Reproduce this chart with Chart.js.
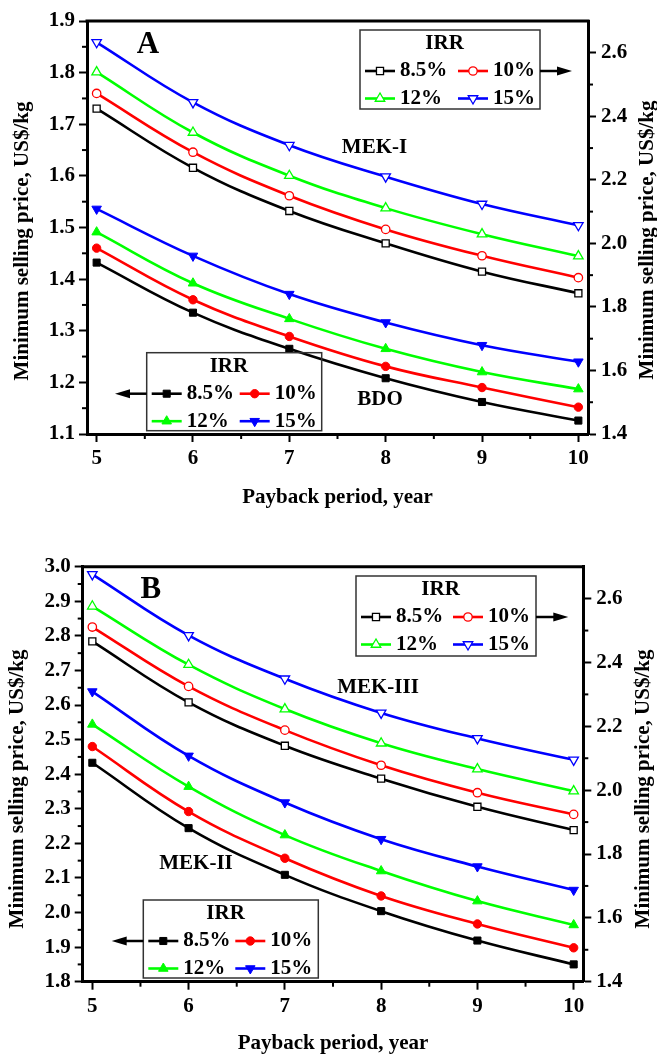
<!DOCTYPE html>
<html><head><meta charset="utf-8">
<script src="https://cdn.jsdelivr.net/npm/chart.js@4/dist/chart.umd.min.js"></script>
<style>
html,body{margin:0;padding:0;background:#fff;}
#wrap{position:relative;width:657px;height:1054px;overflow:hidden;background:#fff;}
.c{position:absolute;left:0;}
</style></head><body>
<div id="wrap">
<div class="c" style="top:0;width:657px;height:527px"><canvas id="cA" width="657" height="527"></canvas></div>
<div class="c" style="top:520px;width:657px;height:534px"><canvas id="cB" width="657" height="534"></canvas></div>
</div>
<script>
// ---------- data ----------
const years = [5, 6, 7, 8, 9, 10];
const irrLabels = ['8.5%', '10%', '12%', '15%'];

// Panel A, right axis (open markers)
const mekI = [
  [2.424, 2.238, 2.102, 2.000, 1.911, 1.843],
  [2.472, 2.287, 2.150, 2.044, 1.961, 1.892],
  [2.539, 2.349, 2.213, 2.111, 2.029, 1.960],
  [2.633, 2.444, 2.309, 2.210, 2.124, 2.057]
];
// Panel A, left axis (filled markers)
const bdo = [
  [1.432, 1.335, 1.265, 1.208, 1.162, 1.126],
  [1.460, 1.360, 1.289, 1.231, 1.190, 1.152],
  [1.491, 1.392, 1.323, 1.265, 1.220, 1.187],
  [1.536, 1.445, 1.371, 1.316, 1.272, 1.240]
];
// Panel B, right axis (open markers)
const mekIII = [
  [2.466, 2.275, 2.139, 2.036, 1.948, 1.875],
  [2.511, 2.325, 2.188, 2.078, 1.992, 1.924],
  [2.576, 2.393, 2.254, 2.147, 2.066, 1.997],
  [2.676, 2.485, 2.349, 2.242, 2.162, 2.095]
];
// Panel B, left axis (filled markers)
const mekII = [
  [2.433, 2.244, 2.109, 2.004, 1.919, 1.850],
  [2.480, 2.292, 2.157, 2.048, 1.967, 1.898],
  [2.544, 2.364, 2.224, 2.120, 2.033, 1.964],
  [2.639, 2.453, 2.318, 2.212, 2.133, 2.065]
];

const xTicks = [5, 6, 7, 8, 9, 10];
const xMinor = [5.5, 6.5, 7.5, 8.5, 9.5];
const leftTicksA = [1.1, 1.2, 1.3, 1.4, 1.5, 1.6, 1.7, 1.8, 1.9];
const leftMinorA = [1.15, 1.25, 1.35, 1.45, 1.55, 1.65, 1.75, 1.85];
const leftTicksB = [1.8, 1.9, 2.0, 2.1, 2.2, 2.3, 2.4, 2.5, 2.6, 2.7, 2.8, 2.9, 3.0];
const leftMinorB = [1.85, 1.95, 2.05, 2.15, 2.25, 2.35, 2.45, 2.55, 2.65, 2.75, 2.85, 2.95];
const rightTicks = [1.4, 1.6, 1.8, 2.0, 2.2, 2.4, 2.6];
const rightMinor = [1.5, 1.7, 1.9, 2.1, 2.3, 2.5];

// ---------- styles ----------
const FONT = "'Liberation Serif','Times New Roman',serif";
const colors = ['#000000', '#ff0000', '#00ff00', '#0000ff'];
const pStyles = ['rect', 'circle', 'triangle', 'triangle'];
const pRot = [0, 0, 0, 180];
const pRad = [5, 4.2, 5.5, 5.5];

function makeSets(arrs, axis, open) {
  return arrs.map((d, i) => ({
    label: irrLabels[i],
    data: years.map((x, j) => ({ x: x, y: d[j] })),
    yAxisID: axis,
    borderColor: colors[i],
    backgroundColor: open ? '#ffffff' : colors[i],
    pointBorderColor: colors[i],
    pointBackgroundColor: open ? '#ffffff' : colors[i],
    pointStyle: pStyles[i],
    pointRotation: pRot[i],
    pointRadius: pRad[i],
    pointBorderWidth: open ? 1.3 : 1,
    borderWidth: 2.6,
    tension: 0.4,
    fill: false
  }));
}

function drawMarker(ctx, i, x, y, open) {
  const r = pRad[i];
  ctx.save();
  ctx.fillStyle = open ? '#ffffff' : colors[i];
  ctx.strokeStyle = colors[i];
  ctx.lineWidth = open ? 1.3 : 1;
  ctx.beginPath();
  if (pStyles[i] === 'rect') {
    const s = Math.SQRT1_2 * r;
    ctx.rect(x - s, y - s, 2 * s, 2 * s);
  } else if (pStyles[i] === 'circle') {
    ctx.arc(x, y, r, 0, Math.PI * 2);
  } else {
    const dir = pRot[i] === 180 ? -1 : 1;
    const h = r * 1.5, w = r * Math.sqrt(3) / 2 * 1.0;
    ctx.moveTo(x, y - dir * r);
    ctx.lineTo(x - r * 0.866, y + dir * r * 0.5);
    ctx.lineTo(x + r * 0.866, y + dir * r * 0.5);
    ctx.closePath();
  }
  ctx.fill();
  ctx.stroke();
  ctx.restore();
}

function text(ctx, s, x, y, size, align) {
  ctx.font = 'bold ' + size + 'px ' + FONT;
  ctx.fillStyle = '#000';
  ctx.textAlign = align || 'center';
  ctx.textBaseline = 'middle';
  ctx.fillText(s, x, y);
}

function arrow(ctx, x1, y, x2) {
  const dir = Math.sign(x2 - x1);
  ctx.save();
  ctx.strokeStyle = '#000'; ctx.fillStyle = '#000'; ctx.lineWidth = 2.5;
  ctx.beginPath(); ctx.moveTo(x1, y); ctx.lineTo(x2 - dir * 10, y); ctx.stroke();
  ctx.beginPath(); ctx.moveTo(x2, y); ctx.lineTo(x2 - dir * 15, y - 4.5); ctx.lineTo(x2 - dir * 15, y + 4.5); ctx.closePath(); ctx.fill();
  ctx.restore();
}

function legendBox(ctx, L, open) {
  ctx.save();
  ctx.strokeStyle = '#333'; ctx.lineWidth = 1.5;
  ctx.strokeRect(L.x, L.y, L.w, L.h);
  text(ctx, 'IRR', L.x + L.w * 0.47, L.y + 14, 21);
  const cols = [L.x + 5, L.x + L.c2];
  const rows = [L.y + 41, L.y + 68.5];
  for (let i = 0; i < 4; i++) {
    const cx = cols[i % 2], cy = rows[Math.floor(i / 2)];
    ctx.strokeStyle = colors[i]; ctx.lineWidth = 2.6;
    ctx.beginPath(); ctx.moveTo(cx, cy); ctx.lineTo(cx + 30, cy); ctx.stroke();
    drawMarker(ctx, i, cx + 15, cy, open);
    text(ctx, irrLabels[i], cx + 35, cy, 21, 'left');
  }
  ctx.restore();
}

const annotPlugin = {
  id: 'annot',
  afterDraw(chart) {
    const o = chart.options.plugins.annot;
    if (!o) return;
    const ctx = chart.ctx;
    const ca = chart.chartArea;
    ctx.save();
    // top frame
    ctx.strokeStyle = '#000'; ctx.lineWidth = 3;
    ctx.beginPath(); ctx.moveTo(ca.left - 1.5, ca.top); ctx.lineTo(ca.right + 1.5, ca.top); ctx.stroke();
    // minor ticks
    ctx.lineWidth = 2;
    const sx = chart.scales.x, sy = chart.scales.y, sy2 = chart.scales.y2;
    xMinor.forEach(v => { const p = sx.getPixelForValue(v); ctx.beginPath(); ctx.moveTo(p, ca.bottom); ctx.lineTo(p, ca.bottom + 5); ctx.stroke(); });
    o.leftMinor.forEach(v => { const p = sy.getPixelForValue(v); ctx.beginPath(); ctx.moveTo(ca.left - 5, p); ctx.lineTo(ca.left, p); ctx.stroke(); });
    rightMinor.forEach(v => { const p = sy2.getPixelForValue(v); ctx.beginPath(); ctx.moveTo(ca.right, p); ctx.lineTo(ca.right + 5, p); ctx.stroke(); });
    // y titles (reading bottom to top)
    const yt = 'Minimum selling price, US$/kg';
    [[o.lt[0], o.lt[1]], [o.rt[0], o.rt[1]]].forEach(([x, y]) => {
      ctx.save(); ctx.translate(x, y); ctx.rotate(-Math.PI / 2);
      text(ctx, yt, 0, 0, 21); ctx.restore();
    });
    // labels
    text(ctx, o.letter[0], o.letter[1], o.letter[2], 31);
    o.labels.forEach(l => text(ctx, l[0], l[1], l[2], 21));
    // legends + arrows
    legendBox(ctx, o.legR, true);
    legendBox(ctx, o.legL, false);
    arrow(ctx, o.legR.x + o.legR.w, o.legR.y + 41, o.arrR);
    arrow(ctx, o.legL.x, o.legL.y + 41, o.arrL);
    ctx.restore();
  }
};

function tickFont() { return { family: FONT, size: 21, weight: 'bold' }; }

function makeChart(id, cfg) {
  const setTicks = arr => (s => { s.ticks = arr.map(v => ({ value: v })); });
  return new Chart(document.getElementById(id), {
    type: 'line',
    data: { datasets: makeSets(cfg.right, 'y2', true).concat(makeSets(cfg.left, 'y', false)) },
    options: {
      responsive: false, animation: false, events: [],
      layout: { padding: { top: cfg.top, left: 0, right: 0, bottom: 0 } },
      plugins: { legend: { display: false }, tooltip: { enabled: false }, annot: cfg.annot },
      scales: {
        x: {
          type: 'linear', min: 4.9, max: 10.1,
          afterBuildTicks: setTicks(xTicks),
          afterFit: s => { s.height = cfg.xh; },
          ticks: { font: tickFont(), color: '#000', padding: 4, maxRotation: 0, callback: v => String(v) },
          grid: { drawOnChartArea: false, tickLength: 8, tickWidth: 2, color: '#000' },
          border: { width: 3, color: '#000' },
          title: { display: true, text: 'Payback period, year', font: tickFont(), color: '#000', padding: { top: 0, bottom: cfg.xpb } }
        },
        y: {
          position: 'left', min: cfg.lmin, max: cfg.lmax,
          afterBuildTicks: setTicks(cfg.lticks),
          afterFit: s => { s.width = cfg.lw; },
          ticks: { font: tickFont(), color: '#000', padding: 4, callback: v => v.toFixed(1) },
          grid: { drawOnChartArea: false, tickLength: 8, tickWidth: 2, color: '#000' },
          border: { width: 3, color: '#000' }
        },
        y2: {
          position: 'right', min: 1.4, max: 2.7,
          afterBuildTicks: setTicks(rightTicks),
          afterFit: s => { s.width = cfg.rw; },
          ticks: { font: tickFont(), color: '#000', padding: 5, callback: v => v.toFixed(1) },
          grid: { drawOnChartArea: false, tickLength: 8, tickWidth: 2, color: '#000' },
          border: { width: 3, color: '#000' }
        }
      }
    },
    plugins: [annotPlugin]
  });
}

makeChart('cA', {
  right: mekI, left: bdo, top: 21, xh: 93, xpb: 17, lw: 87, rw: 69,
  lmin: 1.1, lmax: 1.9, lticks: leftTicksA,
  annot: {
    leftMinor: leftMinorA,
    lt: [22.5, 241], rt: [648, 240],
    letter: ['A', 148, 45],
    labels: [['MEK-I', 374.5, 148], ['BDO', 380, 399.5]],
    legR: { x: 360, y: 30, w: 180, h: 79, c2: 98 },
    legL: { x: 146.7, y: 352.7, w: 175, h: 78, c2: 93 },
    arrR: 572, arrL: 115
  }
});

makeChart('cB', {
  right: mekIII, left: mekII, top: 46.7, xh: 72.3, xpb: -2, lw: 82.7, rw: 73.7,
  lmin: 1.8, lmax: 3.0, lticks: leftTicksB,
  annot: {
    leftMinor: leftMinorB,
    lt: [17.5, 269], rt: [644, 269],
    letter: ['B', 150.8, 70],
    labels: [['MEK-III', 378, 168], ['MEK-II', 196, 343.3]],
    legR: { x: 356, y: 56, w: 180, h: 80, c2: 97 },
    legL: { x: 143.3, y: 380, w: 175, h: 78, c2: 92 },
    arrR: 568.3, arrL: 111.7
  }
});
</script>
</body></html>
